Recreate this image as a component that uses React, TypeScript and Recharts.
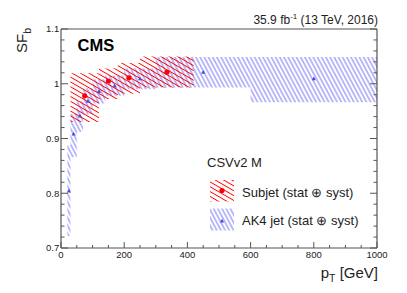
import React from 'react';
import { ComposedChart, Scatter, XAxis, YAxis, ReferenceArea } from 'recharts';

// Subjet scale factors (CSVv2 M)
const subjetPt = [75, 150, 215, 335];
const subjetSF = [0.978, 1.005, 1.011, 1.021];
const subjetBinLow = [30, 120, 180, 250];
const subjetBinHigh = [120, 180, 250, 420];
const subjetBandLow = [0.930, 0.972, 0.982, 0.993];
const subjetBandHigh = [1.019, 1.028, 1.038, 1.050];

// AK4 jet scale factors
const ak4Pt = [25, 40, 60, 85, 120, 170, 250, 450, 800];
const ak4SF = [0.804, 0.908, 0.941, 0.968, 0.986, 0.996, 1.009, 1.021, 1.009];
const ak4BinLow = [20, 30, 50, 70, 100, 140, 200, 300, 600];
const ak4BinHigh = [30, 50, 70, 100, 140, 200, 300, 600, 1000];
const ak4BandLow = [0.722, 0.866, 0.912, 0.944, 0.964, 0.978, 0.990, 0.993, 0.966];
const ak4BandHigh = [0.888, 0.945, 0.968, 0.992, 1.008, 1.015, 1.028, 1.049, 1.049];

// axis ticks
const xMajorTicks = [0, 200, 400, 600, 800, 1000];
const xMinorTicks = [50, 100, 150, 250, 300, 350, 450, 500, 550, 650, 700, 750, 850, 900, 950];
const yMajorTicks = [0.7, 0.8, 0.9, 1, 1.1];
const yMinorTicks = [
  0.72, 0.74, 0.76, 0.78, 0.82, 0.84, 0.86, 0.88, 0.92, 0.94,
  0.96, 0.98, 1.02, 1.04, 1.06, 1.08,
];
const xTicks = [...xMajorTicks, ...xMinorTicks].sort((a, b) => a - b);
const yTicks = [...yMajorTicks, ...yMinorTicks].sort((a, b) => a - b);

const subjetPoints = subjetPt.map((x, i) => ({ x, y: subjetSF[i] }));
const ak4Points = ak4Pt.map((x, i) => ({ x, y: ak4SF[i] }));

const FONT = '"Liberation Sans", Arial, Helvetica, sans-serif';
const FRAME = '#555';
const RED = '#ff0000';
const BLUE = '#4f4ff0';

const HatchDefs = ({ prefix }: { prefix: string }) => (
  <defs>
    <pattern id={`${prefix}red`} patternUnits="userSpaceOnUse" width="8" height="4.2" patternTransform="rotate(30)">
      <line x1="0" y1="2.1" x2="8" y2="2.1" stroke={RED} strokeWidth="0.9" />
    </pattern>
    <pattern id={`${prefix}blue`} patternUnits="userSpaceOnUse" width="8" height="3.7" patternTransform="rotate(62)">
      <line x1="0" y1="1.85" x2="8" y2="1.85" stroke={BLUE} strokeWidth="0.8" />
    </pattern>
  </defs>
);

const Dot = (props: any) => <circle cx={props.cx} cy={props.cy} r={2.6} fill="#ff0000" />;
const Tri = (props: any) => (
  <polygon
    points={`${props.cx},${props.cy - 2.3} ${props.cx - 2.1},${props.cy + 1.5} ${props.cx + 2.1},${props.cy + 1.5}`}
    fill="#4a4ae6"
  />
);

const isMajor = (v: number, majors: number[]) => majors.some((m) => Math.abs(m - v) < 1e-9);

// draws the inward tick line plus (optionally) the label
const makeTick = (side: string, majors: number[], label: boolean) => (props: any) => {
  const { x, y, payload } = props;
  const v = payload.value;
  const major = isMajor(v, majors);
  const horiz = side === 'bottom' || side === 'top';
  const len = horiz ? (major ? 6 : 3) : major ? 7 : 3.5;
  let x2 = x;
  let y2 = y;
  if (side === 'bottom') y2 = y - len;
  if (side === 'top') y2 = y + len;
  if (side === 'left') x2 = x + len;
  if (side === 'right') x2 = x - len;
  return (
    <g>
      <line x1={x} y1={y} x2={x2} y2={y2} stroke={FRAME} strokeWidth={1} />
      {label && major && side === 'bottom' && (
        <text x={x} y={y + 10.3} textAnchor="middle" fontSize={9.5} fill="#222" fontFamily={FONT}>
          {String(v)}
        </text>
      )}
      {label && major && side === 'left' && (
        <text x={x - 1.7} y={y + 3.4} textAnchor="end" fontSize={9.5} fill="#222" fontFamily={FONT}>
          {String(v)}
        </text>
      )}
    </g>
  );
};

const axisLine = { stroke: FRAME, strokeWidth: 1.2 };

export default function App() {
  return (
    <div style={{ position: 'absolute', left: 0, top: 0, width: 407, height: 293, background: '#fff', fontFamily: FONT }}>
      <ComposedChart width={407} height={293} margin={{ top: 28, right: 29, bottom: 44, left: 60 }}>
        <HatchDefs prefix="c" />
        <XAxis xAxisId="x" dataKey="x" type="number" domain={[0, 1000]} ticks={xTicks} interval={0}
          height={1} allowDataOverflow axisLine={axisLine} tickLine={false} tickSize={0} tickMargin={0}
          tick={makeTick('bottom', xMajorTicks, true)} />
        <XAxis xAxisId="xt" orientation="top" type="number" domain={[0, 1000]} ticks={xTicks} interval={0}
          height={1} allowDataOverflow axisLine={axisLine} tickLine={false} tickSize={0} tickMargin={0}
          tick={makeTick('top', xMajorTicks, false)} />
        <YAxis yAxisId="y" dataKey="y" type="number" domain={[0.7, 1.1]} ticks={yTicks} interval={0}
          width={1} allowDataOverflow axisLine={axisLine} tickLine={false} tickSize={0} tickMargin={0}
          tick={makeTick('left', yMajorTicks, true)} />
        <YAxis yAxisId="yr" orientation="right" type="number" domain={[0.7, 1.1]} ticks={yTicks} interval={0}
          width={1} allowDataOverflow axisLine={axisLine} tickLine={false} tickSize={0} tickMargin={0}
          tick={makeTick('right', yMajorTicks, false)} />

        {ak4BinLow.map((lo, i) => (
          <ReferenceArea key={`b${i}`} xAxisId="x" yAxisId="y" x1={lo} x2={ak4BinHigh[i]}
            y1={ak4BandLow[i]} y2={ak4BandHigh[i]} fill="url(#cblue)" fillOpacity={1} stroke="none" ifOverflow="hidden" />
        ))}
        {subjetBinLow.map((lo, i) => (
          <ReferenceArea key={`r${i}`} xAxisId="x" yAxisId="y" x1={lo} x2={subjetBinHigh[i]}
            y1={subjetBandLow[i]} y2={subjetBandHigh[i]} fill="url(#cred)" fillOpacity={1} stroke="none" ifOverflow="hidden" />
        ))}

        <Scatter xAxisId="x" yAxisId="y" data={ak4Points} shape={Tri} isAnimationActive={false} />
        <Scatter xAxisId="x" yAxisId="y" data={subjetPoints} shape={Dot} isAnimationActive={false} />
      </ComposedChart>

      <svg width={407} height={293} style={{ position: 'absolute', left: 0, top: 0, pointerEvents: 'none' }}
        fontFamily={FONT}>
        <HatchDefs prefix="l" />
        <text x={378} y={23.5} fontSize={12} textAnchor="end" fill="#222">
          35.9 fb<tspan fontSize={8} dy={-4.5}>-1</tspan><tspan dy={4.5}> (13 TeV, 2016)</tspan>
        </text>
        <text x={77.5} y={50.7} fontSize={16.5} fontWeight="bold" fill="#000">CMS</text>
        <text transform="translate(27.3,28) rotate(-90)" textAnchor="end" fontSize={15} fill="#222">
          SF<tspan fontSize={10.5} dy={3.5}>b</tspan>
        </text>
        <text x={378} y={278} fontSize={15} textAnchor="end" fill="#222">
          p<tspan fontSize={10.5} dy={3.5}>T</tspan><tspan dy={-3.5}> [GeV]</tspan>
        </text>

        <text x={207} y={167} fontSize={13} fill="#222">CSVv2 M</text>
        <rect x={210} y={180} width={24} height={21.5} fill="url(#lred)" />
        <circle cx={222} cy={190.5} r={2.6} fill="#ff0000" />
        <text x={242} y={196.8} fontSize={13} fill="#222">Subjet (stat ⊕ syst)</text>
        <rect x={210} y={208.5} width={24} height={22} fill="url(#lblue)" />
        <polygon points="222,218.7 219.9,222.5 224.1,222.5" fill="#4a4ae6" />
        <text x={242} y={225} fontSize={13} fill="#222">AK4 jet (stat ⊕ syst)</text>
      </svg>
    </div>
  );
}
